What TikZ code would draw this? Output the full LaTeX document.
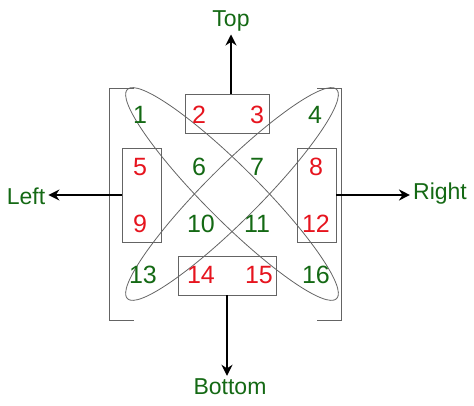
\documentclass[tikz,border=0pt]{standalone}
\usepackage{fontspec}
\setmainfont{Liberation Sans}
\usetikzlibrary{arrows.meta}
\definecolor{numgreen}{RGB}{20,105,20}
\definecolor{numred}{RGB}{230,20,30}
\definecolor{linegray}{RGB}{100,100,100}

\begin{document}
\begin{tikzpicture}[x=1pt,y=1pt,
	box/.style={draw=linegray, line width=0.9pt, minimum width=#1, inner sep=0pt},
	grn/.style={text=numgreen, font=\fontsize{25}{29}\selectfont},
	rd/.style={text=numred, font=\fontsize{25}{29}\selectfont},
	lbl/.style={text=numgreen, font=\fontsize{23}{27}\selectfont, inner sep=3pt},
	arr/.style={-{Stealth[length=11pt,width=11pt]}, line width=2pt}]
	\useasboundingbox (0,0) rectangle (474,406);
	%\draw[help lines] (0,0) grid[step=50] (474,406);
	% brackets
	\draw[linegray, line width=0.9pt] (134,318)--(109,318)--(109,86)--(134,86);
	\draw[linegray, line width=0.9pt] (317,318)--(341,318)--(341,86)--(317,86);
	% contact boxes
	\node[box=84pt, minimum height=39pt] (tb) at (227,292.5) {};
	\node[box=98pt, minimum height=39pt] (bb) at (227,130.5) {};
	\node[box=39pt, minimum height=94pt] (lb) at (141.5,211) {};
	\node[box=39pt, minimum height=94pt] (rb) at (316.5,211) {};
	% ellipses
	\draw[linegray, line width=0.8pt] (232,212) ellipse [x radius=148, y radius=27, rotate=-45];
	\draw[linegray, line width=0.8pt] (232,212) ellipse [x radius=148, y radius=27, rotate=45];
	% numbers
	\node[grn] (n1) at (140,291) {1};
	\node[rd] (n2) at (199,291) {2};
	\node[rd] (n3) at (257,291) {3};
	\node[grn] (n4) at (315,291) {4};
	\node[rd] (n5) at (140,239) {5};
	\node[grn] (n6) at (199,239) {6};
	\node[grn] (n7) at (257,239) {7};
	\node[rd] (n8) at (316,239) {8};
	\node[rd] (n9) at (140,182) {9};
	\node[grn] (n10) at (201,182) {10};
	\node[grn] (n11) at (257,182) {11};
	\node[rd] (n12) at (316,182) {12};
	\node[grn] (n13) at (143,131) {13};
	\node[rd] (n14) at (201,131) {14};
	\node[rd] (n15) at (259,131) {15};
	\node[grn] (n16) at (316,131) {16};
	% directions
	\node[lbl] (top) at (231,385) {Top};
	\node[lbl] (bottom) at (230,19) {Bottom};
	\node[lbl] (left) at (26,210) {Left};
	\node[lbl] (right) at (440,212) {Right};
	\draw[arr] (top.south |- tb.north) -- (top.south);
	\draw[arr] (bb.south) -- (bb.south |- bottom.north);
	\draw[arr] (lb.west) -- (lb.west -| left.east);
	\draw[arr] (rb.east) -- (rb.east -| right.west);
\end{tikzpicture}
\end{document}
